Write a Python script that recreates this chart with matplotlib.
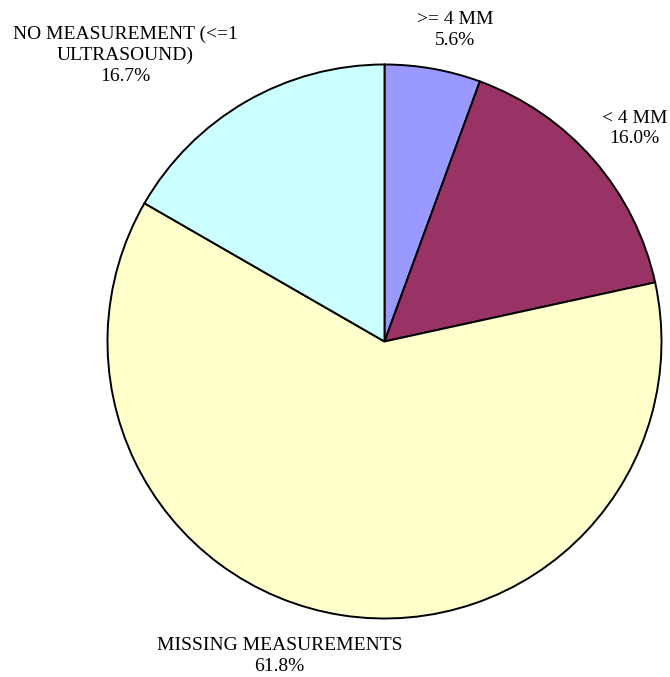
import matplotlib
matplotlib.use("Agg")
import matplotlib.pyplot as plt

labels = [">= 4 MM", "< 4 MM", "MISSING MEASUREMENTS", "NO MEASUREMENT (<=1\nULTRASOUND)"]
shares = [5.6, 16.0, 61.8, 16.7]
colors = ["#9999FF", "#993366", "#FFFFCC", "#CCFFFF"]

# label anchor points (data coords, pie radius = 1)
label_pos = [(0.256, 1.126), (0.903, 0.769), (-0.379, -1.134), (-0.935, 1.032)]

W, H = 670, 677
cx, cy, r = 384.5, 341.5, 277

fig = plt.figure(figsize=(W / 100, H / 100), dpi=100)
ax = fig.add_axes([(cx - r) / W, 1 - (cy + r) / H, 2 * r / W, 2 * r / H])
ax.pie(shares, colors=colors, startangle=90, counterclock=False, radius=1,
       wedgeprops=dict(edgecolor="black", linewidth=1.4))
ax.set_xlim(-1, 1)
ax.set_ylim(-1, 1)
ax.set_aspect("auto")
ax.axis("off")

for lab, val, (x, y) in zip(labels, shares, label_pos):
    ax.text(x, y, f"{lab}\n{val:.1f}%", ha="center", va="center",
            family="Liberation Serif", fontsize=14, linespacing=1.3,
            clip_on=False)

fig.savefig("out.png", dpi=100)
